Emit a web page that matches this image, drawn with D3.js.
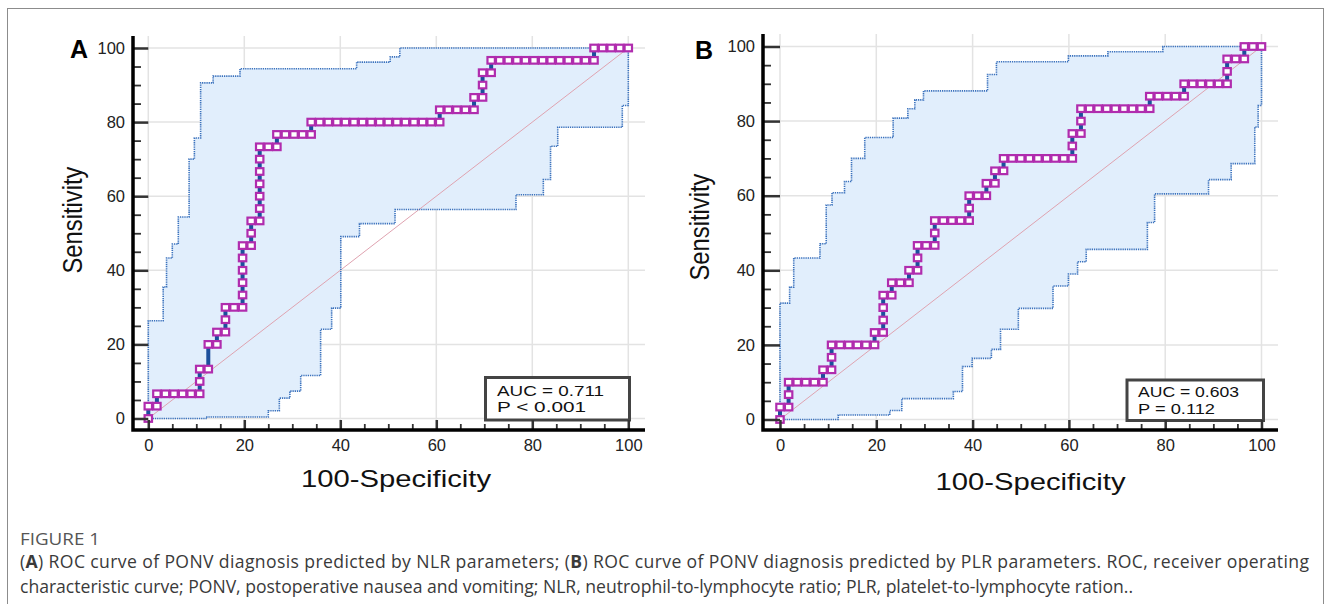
<!DOCTYPE html>
<html lang="en">
  <head>
    <meta charset="utf-8"/>
    <title>ROC curves - NLR / PLR</title>
    <style>
      body { margin: 0; background: #fff; }
      text { font-family: "Liberation Sans", Arial, sans-serif; }
      .caption { font-family: "Open Sans", "Noto Sans", sans-serif; }
    </style>
  </head>
  <body>
    <svg id="fig" width="1331" height="604"></svg>

    <script src="https://cdn.jsdelivr.net/npm/d3@7/dist/d3.min.js"></script>
    <script>
      // ---- data (x = 100-Specificity, y = Sensitivity) ----
      const rocA_x = [0, 0, 1.79, 1.79, 3.57, 5.36, 7.14, 8.93, 10.71, 10.71, 10.71, 12.5, 12.5, 14.29,
        14.29, 16.07, 16.07, 16.07, 17.86, 19.64, 19.64, 19.64, 19.64, 19.64, 19.64, 21.43, 21.43,
        21.43, 23.21, 23.21, 23.21, 23.21, 23.21, 23.21, 23.21, 25, 26.79,
        26.79, 28.57, 30.36, 32.14, 33.93,
        33.93, 35.71, 37.5, 39.29, 41.07, 42.86, 44.64, 46.43, 48.21, 50, 51.79, 53.57, 55.36, 57.14, 58.93, 60.71,
        60.71, 62.5, 64.29, 66.07, 67.86, 67.86, 69.64, 69.64, 69.64, 71.43,
        71.43, 73.21, 75, 76.79, 78.57, 80.36, 82.14, 83.93, 85.71, 87.5, 89.29, 91.07, 92.86,
        92.86, 94.64, 96.43, 98.21, 100];
      const rocA_y = [0, 3.33, 3.33, 6.67, 6.67, 6.67, 6.67, 6.67, 6.67, 10, 13.33, 13.33, 20, 20,
        23.33, 23.33, 26.67, 30, 30, 30, 33.33, 36.67, 40, 43.33, 46.67, 46.67, 50,
        53.33, 53.33, 56.67, 60, 63.33, 66.67, 70, 73.33, 73.33, 73.33,
        76.67, 76.67, 76.67, 76.67, 76.67,
        80, 80, 80, 80, 80, 80, 80, 80, 80, 80, 80, 80, 80, 80, 80, 80,
        83.33, 83.33, 83.33, 83.33, 83.33, 86.67, 86.67, 90, 93.33, 93.33,
        96.67, 96.67, 96.67, 96.67, 96.67, 96.67, 96.67, 96.67, 96.67, 96.67, 96.67, 96.67, 96.67,
        100, 100, 100, 100, 100];

      const rocB_x = [0, 0, 1.79, 1.79, 1.79, 3.57, 5.36, 7.14, 8.93, 8.93, 10.71, 10.71,
        10.71, 12.5, 14.29, 16.07, 17.86, 19.64, 19.64, 21.43, 21.43, 21.43, 21.43, 23.21,
        23.21, 25, 26.79, 26.79, 28.57, 28.57, 28.57, 30.36, 32.14, 32.14,
        32.14, 33.93, 35.71, 37.5, 39.29, 39.29, 39.29, 41.07, 42.86, 42.86, 44.64, 44.64, 46.43,
        46.43, 48.21, 50, 51.79, 53.57, 55.36, 57.14, 58.93, 60.71, 60.71, 60.71, 62.5, 62.5,
        62.5, 64.29, 66.07, 67.86, 69.64, 71.43, 73.21, 75, 76.79,
        76.79, 78.57, 80.36, 82.14, 83.93, 83.93, 85.71, 87.5, 89.29, 91.07, 92.86,
        92.86, 92.86, 94.64, 96.43, 96.43, 98.21, 100];
      const rocB_y = [0, 3.33, 3.33, 6.67, 10, 10, 10, 10, 10, 13.33, 13.33, 16.67,
        20, 20, 20, 20, 20, 20, 23.33, 23.33, 26.67, 30, 33.33, 33.33,
        36.67, 36.67, 36.67, 40, 40, 43.33, 46.67, 46.67, 46.67, 50,
        53.33, 53.33, 53.33, 53.33, 53.33, 56.67, 60, 60, 60, 63.33, 63.33, 66.67, 66.67,
        70, 70, 70, 70, 70, 70, 70, 70, 70, 73.33, 76.67, 76.67, 80,
        83.33, 83.33, 83.33, 83.33, 83.33, 83.33, 83.33, 83.33, 83.33,
        86.67, 86.67, 86.67, 86.67, 86.67, 90, 90, 90, 90, 90, 90,
        93.33, 96.67, 96.67, 96.67, 100, 100, 100];

      // 95% confidence band, as steps: at x[i] the bound jumps to y[i]
      const bandA_upX = [0, 0, 3.1, 3.8, 5.0, 6.25, 8.5, 9.6, 10.9, 13.5, 19.1, 43.4, 50.4, 52.4, 100];
      const bandA_upY = [0, 26.4, 35.5, 43.3, 47.1, 54.4, 70.0, 75.7, 90.6, 92.4, 94.4, 96.2, 97.6, 100, 100];
      const bandA_loX = [0, 12.2, 25.0, 27.3, 29.5, 31.75, 35.9, 38.2, 40.1, 44.0, 51.4, 76.6, 82.3, 83.8, 85.3, 98.75, 100];
      const bandA_loY = [0, 0.4, 2.1, 5.5, 7.4, 11.6, 24.1, 29.8, 49.1, 52.6, 56.4, 60.4, 64.5, 73.5, 78.6, 84.5, 100];

      const bandB_upX = [0, 0, 2.0, 2.85, 8.3, 9.6, 10.8, 13.4, 14.85, 17.6, 23.5, 26.55, 28.0, 29.8, 43.1, 44.95, 59.9, 68.1, 79.5, 100];
      const bandB_upY = [0, 31.2, 35.5, 43.3, 47.1, 57.5, 60.8, 63.8, 70.0, 75.6, 80.8, 83.3, 85.7, 88.1, 92.5, 95.9, 97.5, 98.6, 100, 100];
      const bandB_loX = [0, 12.1, 22.8, 25.3, 36.0, 37.9, 39.9, 43.9, 45.8, 49.5, 56.7, 59.9, 61.8, 63.6, 76.3, 77.8, 89.0, 93.7, 98.6, 99.3, 100];
      const bandB_loY = [0, 1.2, 2.4, 5.6, 7.5, 14.2, 16.4, 18.8, 24.2, 29.8, 35.8, 39.0, 42.3, 45.6, 52.8, 60.5, 64.3, 68.6, 78.4, 84.2, 100];

      const majorTicks = [0, 20, 40, 60, 80, 100];
      const minorTicks = [5, 10, 15, 25, 30, 35, 45, 50, 55, 65, 70, 75, 85, 90, 95];

      const panelLetters = ["A", "B"];
      const aucLabels = ["AUC = 0.711", "AUC = 0.603"];
      const pLabels = ["P < 0.001", "P = 0.112"];
      const xTitle = "100-Specificity";
      const yTitle = "Sensitivity";

      const captionHead = "FIGURE 1";
      const captionLine1 = [["(", false], ["A", true], [") ROC curve of PONV diagnosis predicted by NLR parameters; (", false],
        ["B", true], [") ROC curve of PONV diagnosis predicted by PLR parameters. ROC, receiver operating", false]];
      const captionLine2 = "characteristic curve; PONV, postoperative nausea and vomiting; NLR, neutrophil-to-lymphocyte ratio; PLR, platelet-to-lymphocyte ration..";

      // ---- layout ----
      const panels = [
        { x0: 148.3, x100: 628.3, y0: 418.5, y100: 48, left: 133, bottom: 430, right: 645, top: 36,
          letter: [70, 58], ylab: [82, 220], xlab: [396, 487], box: [485.5, 377.5, 144, 42.5], boxText: [497, 396, 412], aucW: 107, pW: 89,
          rocX: rocA_x, rocY: rocA_y, upX: bandA_upX, upY: bandA_upY, loX: bandA_loX, loY: bandA_loY },
        { x0: 780, x100: 1261.5, y0: 419.5, y100: 46.5, left: 763, bottom: 430, right: 1278, top: 34,
          letter: [695, 59], ylab: [709, 227], xlab: [1030.5, 490], box: [1127, 380, 136.5, 40.5], boxText: [1138, 397, 413.5], aucW: 101, pW: 77,
          rocX: rocB_x, rocY: rocB_y, upX: bandB_upX, upY: bandB_upY, loX: bandB_loX, loY: bandB_loY }
      ];

      const svg = d3.select("#fig");

      // outer frame of the figure
      svg.append("rect")
        .attr("x", 7.5).attr("y", 8.5)
        .attr("width", 1316).attr("height", 640)
        .attr("fill", "none")
        .attr("stroke", "#8c8c8c")
        .attr("stroke-width", 1);

      function stepVerts(xs, ys) {
        let pts = [[xs[0], ys[0]]];
        for (let i = 1; i < xs.length; i++) {
          pts.push([xs[i], ys[i - 1]]);
          pts.push([xs[i], ys[i]]);
        }
        return pts;
      }

      function drawPanel(p, idx) {
        const x = d3.scaleLinear().domain([0, 100]).range([p.x0, p.x100]);
        const y = d3.scaleLinear().domain([0, 100]).range([p.y0, p.y100]);
        const g = svg.append("g").attr("id", "panel_" + panelLetters[idx]);

        // grid
        g.append("g").selectAll("line.vg")
          .data(majorTicks).enter().append("line")
          .attr("x1", d => x(d)).attr("x2", d => x(d))
          .attr("y1", p.top).attr("y2", p.bottom)
          .attr("stroke", "#e3e3e3").attr("stroke-width", 1.5);
        g.append("g").selectAll("line.hg")
          .data(majorTicks).enter().append("line")
          .attr("x1", p.left).attr("x2", p.right)
          .attr("y1", d => y(d)).attr("y2", d => y(d))
          .attr("stroke", "#e3e3e3").attr("stroke-width", 1.5);

        const line = d3.line().x(d => x(d[0])).y(d => y(d[1]));
        const up = stepVerts(p.upX, p.upY);
        const lo = stepVerts(p.loX, p.loY);

        // confidence band fill
        g.append("path")
          .attr("d", line(up.concat(lo.slice().reverse())) + "Z")
          .attr("fill", "#e1eefc")
          .attr("stroke", "none");

        // reference diagonal
        g.append("path")
          .attr("d", line([[0, 0], [100, 100]]))
          .attr("stroke", "#dfa3b0")
          .attr("stroke-width", 1)
          .attr("fill", "none");

        // band borders, dotted
        [up, lo].forEach(function(pts) {
          g.append("path")
            .attr("d", line(pts))
            .attr("fill", "none")
            .attr("stroke", "#3b72bd")
            .attr("stroke-width", 1.6)
            .attr("stroke-dasharray", "1.3,0.9");
        });

        // ROC curve
        const roc = p.rocX.map((v, i) => [v, p.rocY[i]]);
        g.append("path")
          .attr("d", line(roc))
          .attr("fill", "none")
          .attr("stroke", "#1c4f9c")
          .attr("stroke-width", 4);
        g.append("g").selectAll("rect")
          .data(roc).enter().append("rect")
          .attr("x", d => x(d[0]) - 3.7)
          .attr("y", d => y(d[1]) - 3.3)
          .attr("width", 7.4)
          .attr("height", 6.6)
          .attr("fill", "#fff")
          .attr("stroke", "#b02cae")
          .attr("stroke-width", 2.2);

        // AUC box
        g.append("rect")
          .attr("x", p.box[0]).attr("y", p.box[1])
          .attr("width", p.box[2]).attr("height", p.box[3])
          .attr("fill", "#fff")
          .attr("stroke", "#444")
          .attr("stroke-width", 3);
        g.append("text")
          .attr("x", p.boxText[0]).attr("y", p.boxText[1])
          .attr("textLength", p.aucW).attr("lengthAdjust", "spacingAndGlyphs")
          .style("font-size", "15.5px").attr("fill", "#111")
          .text(aucLabels[idx]);
        g.append("text")
          .attr("x", p.boxText[0]).attr("y", p.boxText[2])
          .attr("textLength", p.pW).attr("lengthAdjust", "spacingAndGlyphs")
          .style("font-size", "15.5px").attr("fill", "#111")
          .text(pLabels[idx]);

        // axes
        const yMajor = g.append("g")
          .attr("transform", "translate(" + p.left + ",0)")
          .call(d3.axisLeft(y).tickValues(majorTicks).tickSize(-(p.x0 - p.left)).tickPadding(8));
        const yMinor = g.append("g")
          .attr("transform", "translate(" + p.left + ",0)")
          .call(d3.axisLeft(y).tickValues(minorTicks).tickSize(-8).tickFormat(""));
        const xMajor = g.append("g")
          .attr("transform", "translate(0," + p.bottom + ")")
          .call(d3.axisBottom(x).tickValues(majorTicks).tickSize(-10).tickPadding(9));
        const xMinor = g.append("g")
          .attr("transform", "translate(0," + p.bottom + ")")
          .call(d3.axisBottom(x).tickValues(minorTicks).tickSize(-6).tickFormat(""));

        [yMajor, yMinor, xMajor, xMinor].forEach(function(a) {
          a.select(".domain").remove();
          a.selectAll(".tick line").attr("stroke", "#333");
          a.selectAll("text").style("font-size", "16.5px").attr("fill", "#222")
            .style("font-family", '"Liberation Sans", Arial, sans-serif');
        });
        yMajor.selectAll(".tick line").attr("stroke-width", 2.5);
        xMajor.selectAll(".tick line").attr("stroke-width", 2.5);
        yMinor.selectAll(".tick line").attr("stroke-width", 1.8);
        xMinor.selectAll(".tick line").attr("stroke-width", 1.8);

        // thick axis lines
        g.append("path")
          .attr("d", "M" + p.left + "," + p.top + "V" + p.bottom + "H" + p.right)
          .attr("fill", "none")
          .attr("stroke", "#000")
          .attr("stroke-width", 3.5);

        // titles
        g.append("text")
          .attr("x", p.letter[0]).attr("y", p.letter[1])
          .style("font-size", "25px").style("font-weight", "bold")
          .text(panelLetters[idx]);
        g.append("text")
          .attr("transform", "translate(" + p.ylab[0] + "," + p.ylab[1] + ") rotate(-90)")
          .attr("text-anchor", "middle")
          .attr("textLength", 107).attr("lengthAdjust", "spacingAndGlyphs")
          .style("font-family", '"Liberation Sans Narrow", "Liberation Sans", Arial, sans-serif')
          .style("font-size", "27px").attr("fill", "#111")
          .text(yTitle);
        g.append("text")
          .attr("x", p.xlab[0]).attr("y", p.xlab[1])
          .attr("text-anchor", "middle")
          .attr("textLength", 190).attr("lengthAdjust", "spacingAndGlyphs")
          .style("font-size", "24px").attr("fill", "#111")
          .text(xTitle);
      }

      panels.forEach(drawPanel);

      // caption
      svg.append("text")
        .attr("class", "caption")
        .attr("x", 20).attr("y", 545)
        .attr("textLength", 80).attr("lengthAdjust", "spacingAndGlyphs")
        .style("font-size", "15.5px").attr("fill", "#555")
        .text(captionHead);
      const c1 = svg.append("text")
        .attr("class", "caption")
        .attr("x", 20).attr("y", 568)
        .attr("textLength", 1289).attr("lengthAdjust", "spacing")
        .style("font-size", "17.6px").attr("fill", "#3a3a3a");
      captionLine1.forEach(function(part) {
        c1.append("tspan").style("font-weight", part[1] ? "bold" : "normal").text(part[0]);
      });
      svg.append("text")
        .attr("class", "caption")
        .attr("x", 20).attr("y", 593)
        .attr("textLength", 1113).attr("lengthAdjust", "spacing")
        .style("font-size", "17.6px").attr("fill", "#3a3a3a")
        .text(captionLine2);
    </script>
  </body>
</html>
